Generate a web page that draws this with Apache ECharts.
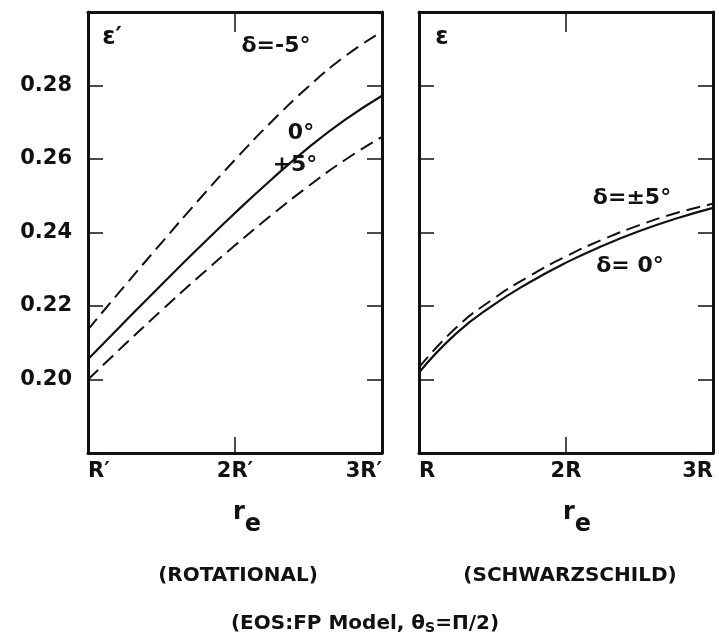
<!DOCTYPE html>
<html>
<head>
<meta charset="utf-8">
<script src="https://cdn.jsdelivr.net/npm/echarts@6/dist/echarts.min.js"></script>
<style>
  html, body { margin: 0; padding: 0; background: #fff; }
  #chart { width: 719px; height: 640px; }
</style>
</head>
<body>
<div id="chart"></div>
<script>
// r_e in units of R' (left) and R (right)
var rPoints = [1, 1.25, 1.5, 1.75, 2, 2.25, 2.5, 2.75, 3];

// rotational, epsilon'
var rotMinus5 = [0.2136, 0.2255, 0.2372, 0.2487, 0.2598, 0.2702, 0.2797, 0.2880, 0.2947];
var rotZero   = [0.2055, 0.2157, 0.2258, 0.2357, 0.2453, 0.2545, 0.2631, 0.2707, 0.2772];
var rotPlus5  = [0.2000, 0.2095, 0.2188, 0.2278, 0.2365, 0.2448, 0.2526, 0.2598, 0.2660];

// schwarzschild, epsilon
var schZero = [0.2019, 0.2124, 0.2201, 0.2264, 0.2318, 0.2364, 0.2404, 0.2438, 0.2467];
var schPm5  = [0.2033, 0.2140, 0.2218, 0.2281, 0.2335, 0.2381, 0.2420, 0.2453, 0.2478];

var rotTicks = ['R\u2032', '2R\u2032', '3R\u2032'];
var schTicks = ['R', '2R', '3R'];
var yLabels = [0.20, 0.22, 0.24, 0.26, 0.28];

function pairs(xs, ys) {
  return xs.map(function (x, i) { return [x, ys[i]]; });
}

var font = 'DejaVu Sans';
var ink = '#111';

function xAxes(grid, ticks) {
  return [
    {
      type: 'value', gridIndex: grid, position: 'bottom',
      min: 1, max: 3, interval: 1,
      axisLine: { lineStyle: { color: ink, width: 3 } },
      axisTick: { inside: true, length: 16, lineStyle: { color: ink, width: 1.5 } },
      axisLabel: {
        margin: 8, color: ink, fontFamily: font, fontWeight: 'bold', fontSize: 21,
        alignMinLabel: 'left', alignMaxLabel: 'right',
        formatter: function (v) { return ticks[Math.round(v) - 1]; }
      },
      splitLine: { show: false }
    },
    {
      type: 'value', gridIndex: grid, position: 'top',
      min: 1, max: 3, interval: 1,
      axisLine: { lineStyle: { color: ink, width: 3 } },
      axisTick: { inside: true, length: 20, lineStyle: { color: ink, width: 1.5 } },
      axisLabel: { show: false },
      splitLine: { show: false }
    }
  ];
}

function yAxes(grid, showLabels) {
  var base = {
    type: 'value', gridIndex: grid,
    min: 0.18, max: 0.30, interval: 0.02,
    axisLine: { show: true, lineStyle: { color: ink, width: 3 } },
    axisTick: { show: true, inside: true, length: 15, lineStyle: { color: ink, width: 1.5 } },
    splitLine: { show: false }
  };
  var left = Object.assign({}, base, {
    position: 'left',
    axisLabel: {
      show: showLabels, margin: 16, color: ink, fontFamily: font, fontWeight: 'bold', fontSize: 21,
      formatter: function (v) {
        for (var i = 0; i < yLabels.length; i++) {
          if (Math.abs(v - yLabels[i]) < 1e-6) return yLabels[i].toFixed(2);
        }
        return '';
      }
    }
  });
  var right = Object.assign({}, base, { position: 'right', axisLabel: { show: false } });
  return [left, right];
}

function curve(name, xi, yi, data, dashed) {
  return {
    name: name, type: 'line', xAxisIndex: xi, yAxisIndex: yi,
    data: data, smooth: true, showSymbol: false, symbol: 'none',
    lineStyle: { color: ink, width: dashed ? 2 : 2.2, type: dashed ? [14, 7] : 'solid' }
  };
}

function txt(x, y, s, size) {
  return {
    type: 'text', x: x, y: y,
    style: {
      text: s, fill: ink, font: 'bold ' + (size || 22) + 'px "' + font + '"',
      textAlign: 'center', textVerticalAlign: 'middle'
    }
  };
}

var reRich = {
  r: { fontFamily: font, fontWeight: 'bold', fontSize: 24, color: ink, padding: [0, 0, 12, 0] },
  e: { fontFamily: font, fontWeight: 'bold', fontSize: 24, color: ink, padding: [12, 0, 0, 0] }
};

var chart = echarts.init(document.getElementById('chart'));
chart.setOption({
  backgroundColor: '#fff',
  animation: false,
  grid: [
    { left: 88, width: 294, top: 12, height: 441 },
    { left: 419, width: 294, top: 12, height: 441 }
  ],
  xAxis: xAxes(0, rotTicks).concat(xAxes(1, schTicks)),
  yAxis: yAxes(0, true).concat(yAxes(1, false)),
  title: [
    { text: '{r|r}{e|e}', left: 242, top: 496, textAlign: 'center', textStyle: { rich: reRich } },
    { text: '{r|r}{e|e}', left: 572, top: 496, textAlign: 'center', textStyle: { rich: reRich } },
    {
      text: '(ROTATIONAL)', left: 233, top: 561, textAlign: 'center',
      textStyle: { fontFamily: font, fontWeight: 'bold', fontSize: 20, color: ink }
    },
    {
      text: '(SCHWARZSCHILD)', left: 565, top: 561, textAlign: 'center',
      textStyle: { fontFamily: font, fontWeight: 'bold', fontSize: 20, color: ink }
    },
    {
      text: '{a|(EOS:FP Model, \u03b8}{s|S}{a|=\u03a0/2)}', left: 360, top: 608, textAlign: 'center',
      textStyle: { rich: {
        a: { fontFamily: font, fontWeight: 'bold', fontSize: 20, color: ink },
        s: { fontFamily: font, fontWeight: 'bold', fontSize: 14, color: ink, padding: [8, 0, 0, 0] }
      } }
    }
  ],
  graphic: [
    txt(112, 38, '\u03b5\u2032', 24),
    txt(442, 38, '\u03b5', 24),
    txt(276, 46, '\u03b4=-5\u00b0'),
    txt(301, 133, '0\u00b0'),
    txt(295, 165, '+5\u00b0'),
    txt(632, 198, '\u03b4=\u00b15\u00b0'),
    txt(630, 266, '\u03b4= 0\u00b0')
  ],
  series: [
    curve('rot -5', 0, 0, pairs(rPoints, rotMinus5), true),
    curve('rot 0', 0, 0, pairs(rPoints, rotZero), false),
    curve('rot +5', 0, 0, pairs(rPoints, rotPlus5), true),
    curve('sch +-5', 2, 2, pairs(rPoints, schPm5), true),
    curve('sch 0', 2, 2, pairs(rPoints, schZero), false)
  ]
});
</script>
</body>
</html>
